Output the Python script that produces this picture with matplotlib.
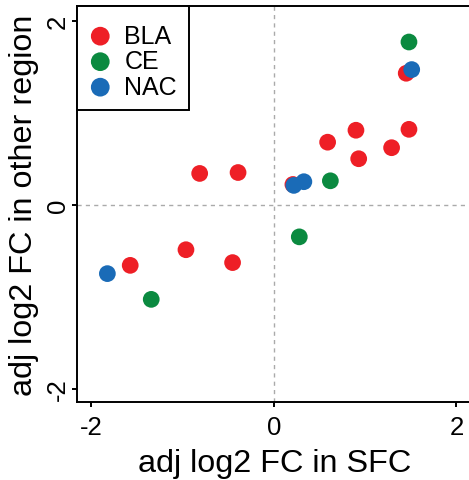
"""Scatter of adjusted log2 fold changes: SFC vs other brain regions."""
import matplotlib
matplotlib.use("Agg")
import matplotlib.pyplot as plt
from matplotlib.patches import Rectangle

plt.rcParams["font.family"] = ["Liberation Sans", "DejaVu Sans"]

# ── data ─────────────────────────────────────────────────────────────────
bla_x = [-0.81, -0.39, 1.45, 0.90, 0.59, 1.48, 1.29, 0.93, 0.21, -1.57, -0.96, -0.45]
bla_y = [0.34, 0.35, 1.43, 0.81, 0.68, 0.82, 0.62, 0.50, 0.22, -0.66, -0.49, -0.63]

ce_x = [1.48, 0.62, 0.28, -1.34]
ce_y = [1.77, 0.26, -0.35, -1.03]

nac_x = [1.51, 0.22, 0.33, -1.82]
nac_y = [1.47, 0.21, 0.25, -0.75]

groups = ["BLA", "CE", "NAC"]
colors = ["#EE1F26", "#0B8A40", "#1A6BB7"]
ticks = [-2, 0, 2]

# ── figure ───────────────────────────────────────────────────────────────
fig = plt.figure(figsize=(4.69, 4.81), dpi=100)
ax = fig.add_axes([77.3 / 469, 77.7 / 481, 395 / 469, 396.6 / 481])

ax.axhline(0, color="#AAAAAA", lw=1.0, ls=(0, (3, 3)), zorder=1)
ax.axvline(0, color="#AAAAAA", lw=1.0, ls=(0, (3, 3)), zorder=1)

for xs, ys, name, col in zip([bla_x, ce_x, nac_x], [bla_y, ce_y, nac_y], groups, colors):
    ax.scatter(xs, ys, s=145, color=col, edgecolors="none", label=name, zorder=3)

ax.set_xlim(-2.149, 2.173)
ax.set_ylim(-2.15, 2.165)
ax.set_xticks(ticks)
ax.set_yticks(ticks)
ax.set_xticklabels([str(t) for t in ticks])
ax.set_yticklabels([str(t) for t in ticks], rotation=90, rotation_mode="anchor",
                   ha="center", va="baseline")

for sp in ax.spines.values():
    sp.set_linewidth(1.4)
ax.spines["right"].set_visible(False)  # falls off the image edge in the original
ax.tick_params(length=3.8, width=1.4, labelsize=18.5)
ax.tick_params(axis="x", pad=5)
ax.tick_params(axis="y", pad=5.2)

ax.set_xlabel("adj log2 FC in SFC", fontsize=23.3, va="baseline")
ax.set_ylabel("adj log2 FC in other region", fontsize=23.3, va="baseline")
ax.xaxis.set_label_coords(0.5, -0.1725)
ax.yaxis.set_label_coords(-0.1153, 0.5)

# legend: entries without frame, box drawn separately (R-style padding)
leg = ax.legend(loc="upper left", bbox_to_anchor=(0.0265, 0.9545), borderaxespad=0,
                fontsize=18, frameon=False, handletextpad=0.46,
                labelspacing=0.06, borderpad=0, handlelength=1.0, markerscale=1.12)
ax.add_patch(Rectangle((0, 0.7366), 0.284, 1 - 0.7366, transform=ax.transAxes,
                       facecolor="white", edgecolor="black", lw=1.4,
                       zorder=4, clip_on=False))
leg.set_zorder(5)

fig.savefig("out.png", dpi=100)
